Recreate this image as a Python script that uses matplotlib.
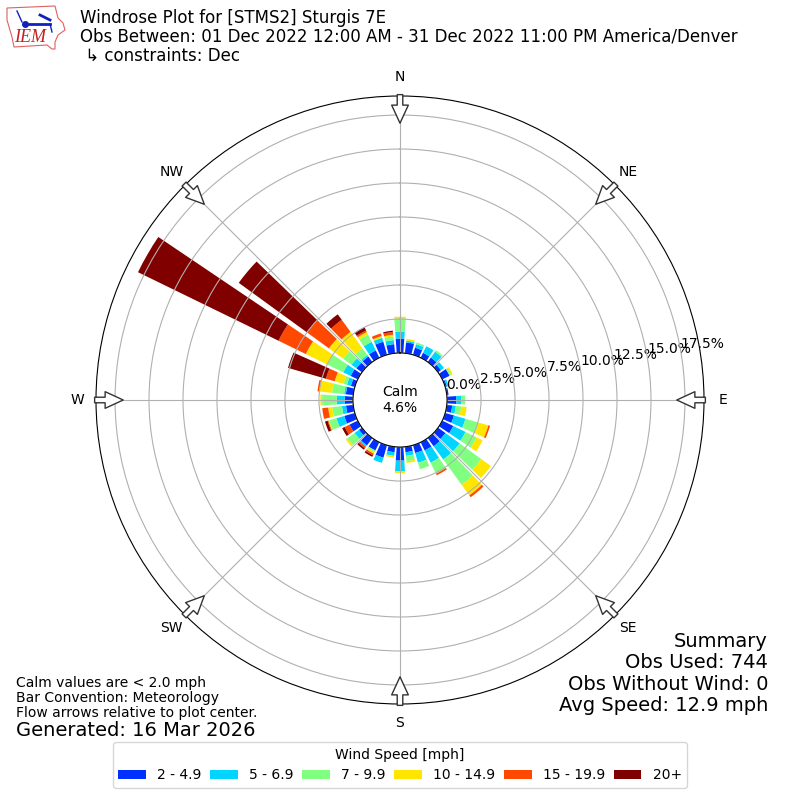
import numpy as np
import matplotlib
matplotlib.use('Agg')
import matplotlib.pyplot as plt
from matplotlib.patches import Polygon

# percent of obs per 10 degree sector, 0 to 350
directions = np.arange(0, 360, 10)
speed_2_5 = [1.06, 0.80, 0.54, 0.40, 0.40, 0.27, 0.60, 0.13, 0.13, 0.67, 0.40, 0.67,
             0.90, 0.67, 0.75, 0.67, 0.60, 0.40, 1.00, 0.40, 0.95, 0.67, 0.67, 0.27,
             0.67, 0.80, 0.53, 0.60, 0.54, 0.30, 0.58, 0.50, 0.50, 0.60, 1.00, 0.67]
speed_5_7 = [0.50, 0.13, 0.27, 0.54, 0.54, 0.27, 0.00, 0.13, 0.00, 0.40, 0.27, 0.88,
             1.00, 1.30, 1.20, 1.00, 0.74, 0.27, 0.80, 0.27, 0.40, 0.00, 0.13, 0.40,
             0.00, 0.60, 0.30, 0.60, 0.13, 0.30, 0.60, 0.45, 0.13, 0.70, 0.30, 0.30]
speed_7_10 = [0.98, 0.00, 0.13, 0.00, 0.13, 0.00, 0.13, 0.00, 0.00, 0.27, 0.40, 1.00,
              0.90, 1.96, 2.30, 0.90, 0.50, 0.40, 0.00, 0.00, 0.00, 0.13, 0.00, 0.67,
              0.00, 0.55, 0.72, 1.07, 0.90, 0.27, 1.30, 0.75, 0.60, 0.60, 0.00, 0.27]
speed_10_15 = [0.13, 0.13, 0.00, 0.00, 0.00, 0.00, 0.13, 0.00, 0.00, 0.00, 0.40, 0.75,
               0.50, 0.88, 0.96, 0.00, 0.00, 0.13, 0.13, 0.13, 0.00, 0.13, 0.00, 0.13,
               0.00, 0.07, 0.30, 0.13, 0.94, 0.67, 1.77, 1.30, 1.50, 0.20, 0.13, 0.13]
speed_15_20 = [0.00, 0.00, 0.00, 0.00, 0.00, 0.00, 0.00, 0.00, 0.00, 0.00, 0.00, 0.13,
               0.00, 0.00, 0.17, 0.13, 0.00, 0.00, 0.00, 0.00, 0.00, 0.13, 0.13, 0.00,
               0.40, 0.06, 0.44, 0.00, 0.13, 0.67, 2.23, 2.00, 1.10, 0.13, 0.20, 0.20]
speed_20 = [0.00, 0.00, 0.00, 0.00, 0.00, 0.00, 0.00, 0.00, 0.00, 0.00, 0.00, 0.00,
            0.00, 0.00, 0.00, 0.00, 0.00, 0.00, 0.00, 0.00, 0.00, 0.13, 0.13, 0.00,
            0.20, 0.20, 0.00, 0.00, 0.00, 2.90, 11.50, 6.20, 0.50, 0.27, 0.00, 0.10]

speed_labels = ['2 - 4.9', '5 - 6.9', '7 - 9.9', '10 - 14.9', '15 - 19.9', '20+']
speed_colors = ['#0030ff', '#00d4ff', '#80ff80', '#ffe600', '#ff4800', '#800000']
r_ticks = [0, 2.5, 5, 7.5, 10, 12.5, 15, 17.5]
compass = ['N', 'NE', 'E', 'SE', 'S', 'SW', 'W', 'NW']
compass_deg = [0, 45, 90, 135, 180, 225, 270, 315]

fig = plt.figure(figsize=(8, 8), dpi=100)
ax = fig.add_axes([0.12, 0.12, 0.76, 0.76], projection='polar')
ax.set_theta_zero_location('N')
ax.set_theta_direction(-1)
ax.set_ylim(0, 18.9)
ax.set_rorigin(-3.46)

theta = np.radians(directions)
bottom = np.zeros(len(directions))
series = [speed_2_5, speed_5_7, speed_7_10, speed_10_15, speed_15_20, speed_20]
for vals, col, lab in zip(series, speed_colors, speed_labels):
    ax.bar(theta, vals, width=np.radians(8), bottom=bottom, color=col,
           linewidth=0, label=lab)
    bottom = bottom + np.array(vals)

ax.set_yticks(r_ticks)
ax.set_yticklabels([f'{v:.1f}%' for v in r_ticks])
ax.set_rlabel_position(80)
ax.set_thetagrids(compass_deg, compass)
ax.tick_params(axis='x', pad=3)
ax.grid(True)

# flow arrows point at the plot center
for deg in compass_deg:
    ax.annotate('', xy=(np.radians(deg), 16.9), xytext=(np.radians(deg), 19.0),
                annotation_clip=False,
                arrowprops=dict(facecolor='white', edgecolor='#333333', width=4,
                                headwidth=12, headlength=13, shrink=0, linewidth=1))

ax.text(0.5, 0.5, 'Calm\n4.6%', transform=ax.transAxes, ha='center', va='center',
        fontsize=10)

fig.text(0.1, 0.919, 'Windrose Plot for [STMS2] Sturgis 7E\n'
         'Obs Between: 01 Dec 2022 12:00 AM - 31 Dec 2022 11:00 PM America/Denver\n'
         ' ↳ constraints: Dec', fontsize=12, va='bottom', linespacing=1.08)

fig.text(0.96, 0.106, 'Summary\nObs Used: 744\nObs Without Wind: 0\nAvg Speed: 12.9 mph',
         ha='right', va='bottom', fontsize=14, linespacing=1.17)
fig.text(0.02, 0.1, 'Calm values are < 2.0 mph\nBar Convention: Meteorology\n'
         'Flow arrows relative to plot center.', fontsize=10, va='bottom', linespacing=1.1)
fig.text(0.02, 0.075, 'Generated: 16 Mar 2026', fontsize=14, va='bottom')

handles, labels = ax.get_legend_handles_labels()
fig.legend(handles, labels, title='Wind Speed [mph]', ncol=6, loc='lower center',
           bbox_to_anchor=(0.5, 0.015), borderaxespad=0, fontsize=10, title_fontsize=10,
           columnspacing=0.62)

# rough IEM logo, in pixel coords
logo = fig.add_axes([0, 0.93, 0.0875, 0.07])
logo.set_xlim(0, 70)
logo.set_ylim(56, 0)
logo.axis('off')
outline = [(7, 8), (55, 6), (58, 18), (63, 23), (65, 30), (58, 35), (55, 42), (55, 49),
           (52, 49), (47, 45), (14, 47), (12, 37), (7, 20)]
logo.add_patch(Polygon(outline, closed=True, fill=False, edgecolor='#e06060', linewidth=0.8))
logo.plot([25, 50], [24, 24], color='#1020c0', linewidth=2)
logo.plot([25], [24], 'o', color='#1020c0', markersize=4)
logo.plot([17, 22], [11, 22], color='#1020c0', linewidth=1)
logo.plot([40, 50], [15, 20], color='#1020c0', linewidth=2)
logo.plot([50, 52], [24, 32], color='#1020c0', linewidth=1)
logo.text(30, 38, 'IEM', color='#c02020', fontsize=13, style='italic', family='Liberation Serif',
          ha='center', va='center')

fig.savefig('out.png', dpi=100)
